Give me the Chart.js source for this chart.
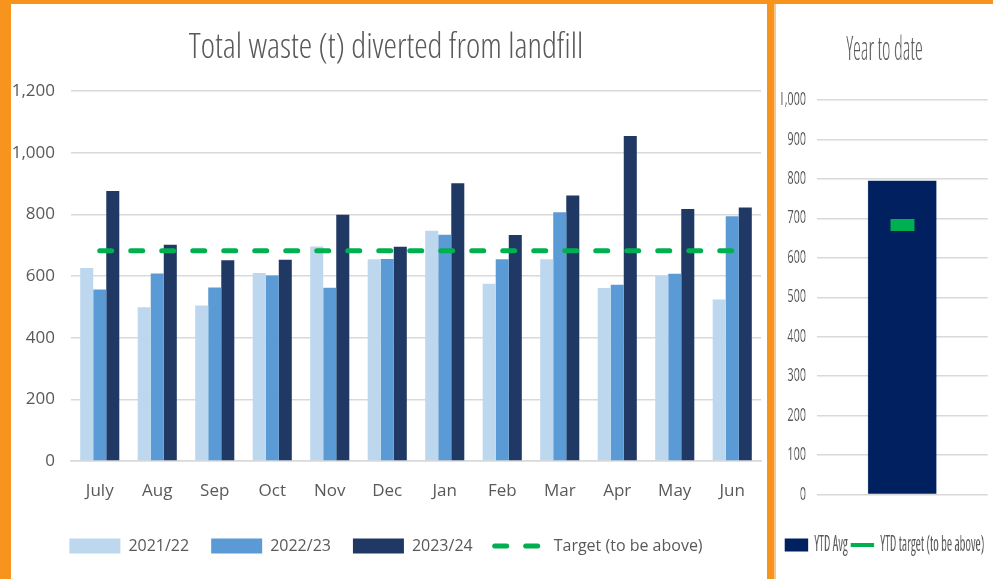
<!DOCTYPE html>
<html><head><meta charset="utf-8">
<script src="https://cdn.jsdelivr.net/npm/chart.js@4.4.1/dist/chart.umd.min.js"></script>
<style>
html,body{margin:0;padding:0;}
body{width:993px;height:579px;background:#F7941D;position:relative;overflow:hidden;}
#left{position:absolute;left:11px;top:4px;width:756px;height:575px;background:#fff;}
#strip{position:absolute;left:774px;top:4px;width:2px;height:575px;background:#FBC58A;}
#right{position:absolute;left:776px;top:4px;width:217px;height:575px;background:#fff;overflow:hidden;}
#lc{display:block;}
#rc{display:block;transform:scaleX(0.5994);transform-origin:0 0;}
</style></head><body>
<div id="left"><canvas id="lc" width="756" height="575"></canvas></div>
<div id="strip"></div>
<div id="right"><canvas id="rc" width="362" height="575"></canvas></div>
<script>
// ---- data ----
const months = ['July','Aug','Sep','Oct','Nov','Dec','Jan','Feb','Mar','Apr','May','Jun'];
const values2021_22 = [626,499,504,610,696,654,747,575,654,561,600,524];
const values2022_23 = [556,608,563,602,562,655,734,654,807,572,607,794];
const values2023_24 = [876,701,651,653,799,695,901,733,861,1054,817,822];
const targetValues = [682,682,682,682,682,682,682,682,682,682,682,682];
const mainYTicks = [0,200,400,600,800,1000,1200];

const ytdCategories = ['YTD'];
const ytdAvgValues = [795];
const ytdTargetValues = [683];
const ytdYTicks = [0,100,200,300,400,500,600,700,800,900,1000];

// ---- styles ----
Chart.defaults.font.family = "'Open Sans', 'DejaVu Sans', sans-serif";
Chart.defaults.color = '#595959';
const GREY = '#595959';
const GRID = '#D9D9D9';
const GREEN = '#00B050';
const fmt = v => Number(v).toLocaleString('en-US');

new Chart(document.getElementById('lc'), {
  data: {
    labels: months,
    datasets: [
      {type:'bar', label:'2021/22', data:values2021_22, backgroundColor:'#BDD7EE', borderWidth:0, categoryPercentage:0.68, barPercentage:1.0, order:1},
      {type:'bar', label:'2022/23', data:values2022_23, backgroundColor:'#5B9BD5', borderWidth:0, categoryPercentage:0.68, barPercentage:1.0, order:1},
      {type:'bar', label:'2023/24', data:values2023_24, backgroundColor:'#203864', borderWidth:0, categoryPercentage:0.68, barPercentage:1.0, order:1},
      {type:'line', label:'Target (to be above)', data:targetValues, borderColor:GREEN, backgroundColor:GREEN,
       borderWidth:5, borderDash:[12,19], borderCapStyle:'round', pointRadius:0, fill:false, order:0}
    ]
  },
  options: {
    responsive:false, animation:false, devicePixelRatio:1, events:[],
    layout:{padding:{left:0,right:6,top:0,bottom:15}},
    plugins:{
      tooltip:{enabled:false},
      title:{display:true, text:'Total waste (t) diverted from landfill', color:GREY,
        font:{size:34, weight:'300 condensed'}, padding:{top:24,bottom:22.2}},
      legend:{position:'bottom',
        labels:{usePointStyle:true, pointStyleWidth:51, boxHeight:15, padding:22, color:GREY,
          font:{size:16},
          sort:(a,b)=>a.datasetIndex-b.datasetIndex,
          generateLabels(chart){
            const items = Chart.defaults.plugins.legend.labels.generateLabels(chart);
            items.forEach(it=>{
              const ds = chart.data.datasets[it.datasetIndex];
              if (ds.type==='line'){
                it.pointStyle='line'; it.strokeStyle=GREEN; it.lineWidth=5; it.lineDash=[12,19]; it.lineCap='round'; it.fillStyle=GREEN;
              } else {
                it.pointStyle='rect'; it.lineWidth=0; it.fillStyle=ds.backgroundColor; it.strokeStyle=ds.backgroundColor; it.lineDash=[];
              }
            });
            return items;
          }}}
    },
    scales:{
      x:{grid:{display:false}, border:{display:true,color:GRID,width:1.5},
         ticks:{padding:12,color:GREY,font:{size:17},maxRotation:0,autoSkip:false},
         afterFit(s){s.height=55;}},
      y:{min:0,max:1200,
         afterBuildTicks(a){a.ticks = mainYTicks.map(v=>({value:v}));},
         grid:{color:GRID,lineWidth:1.5,drawTicks:false}, border:{display:false},
         ticks:{padding:16,color:GREY,font:{size:17},callback:v=>fmt(v)},
         afterFit(s){s.width=60;}}
    }
  }
});

// marker for YTD target
const marker = document.createElement('canvas');
marker.width = 40; marker.height = 12;
const mctx = marker.getContext('2d');
mctx.fillStyle = GREEN; mctx.fillRect(0,0,40,12);

new Chart(document.getElementById('rc'), {
  data: {
    labels: ytdCategories,
    datasets: [
      {type:'bar', label:'YTD Avg', data:ytdAvgValues, backgroundColor:'#002060', borderWidth:0, barPercentage:0.4, categoryPercentage:1, order:1},
      {type:'line', label:'YTD target (to be above)', data:ytdTargetValues, borderColor:GREEN, backgroundColor:GREEN,
       showLine:false, pointStyle:marker, pointRadius:6, order:0}
    ]
  },
  options: {
    responsive:false, animation:false, devicePixelRatio:1, events:[],
    layout:{padding:{left:9,right:9,top:0,bottom:13.5}},
    plugins:{
      tooltip:{enabled:false},
      title:{display:true, text:'Year to date', color:GREY, font:{size:33, weight:'300 condensed'}, padding:{top:27,bottom:29.4}},
      legend:{position:'bottom',
        labels:{usePointStyle:true, pointStyleWidth:39, boxHeight:13, padding:5, color:GREY,
          font:{size:21, weight:'condensed'},
          sort:(a,b)=>a.datasetIndex-b.datasetIndex,
          generateLabels(chart){
            const items = Chart.defaults.plugins.legend.labels.generateLabels(chart);
            items.forEach(it=>{
              const ds = chart.data.datasets[it.datasetIndex];
              if (ds.type==='line'){
                it.pointStyle='line'; it.strokeStyle=GREEN; it.lineWidth=4; it.lineDash=[]; it.lineCap='butt'; it.fillStyle=GREEN;
              } else {
                it.pointStyle='rect'; it.lineWidth=0; it.fillStyle=ds.backgroundColor; it.strokeStyle=ds.backgroundColor; it.lineDash=[];
              }
            });
            return items;
          }}}
    },
    scales:{
      x:{grid:{display:false}, border:{display:false}, ticks:{display:false}, afterFit(s){s.height=35;}},
      y:{min:0,max:1000,
         afterBuildTicks(a){a.ticks = ytdYTicks.map(v=>({value:v}));},
         grid:{color:GRID,lineWidth:1.5,drawTicks:false}, border:{display:false},
         ticks:{padding:18,color:GREY,font:{size:18},callback:v=>fmt(v)},
         afterFit(s){s.width=59;}}
    }
  }
});
</script>
</body></html>
